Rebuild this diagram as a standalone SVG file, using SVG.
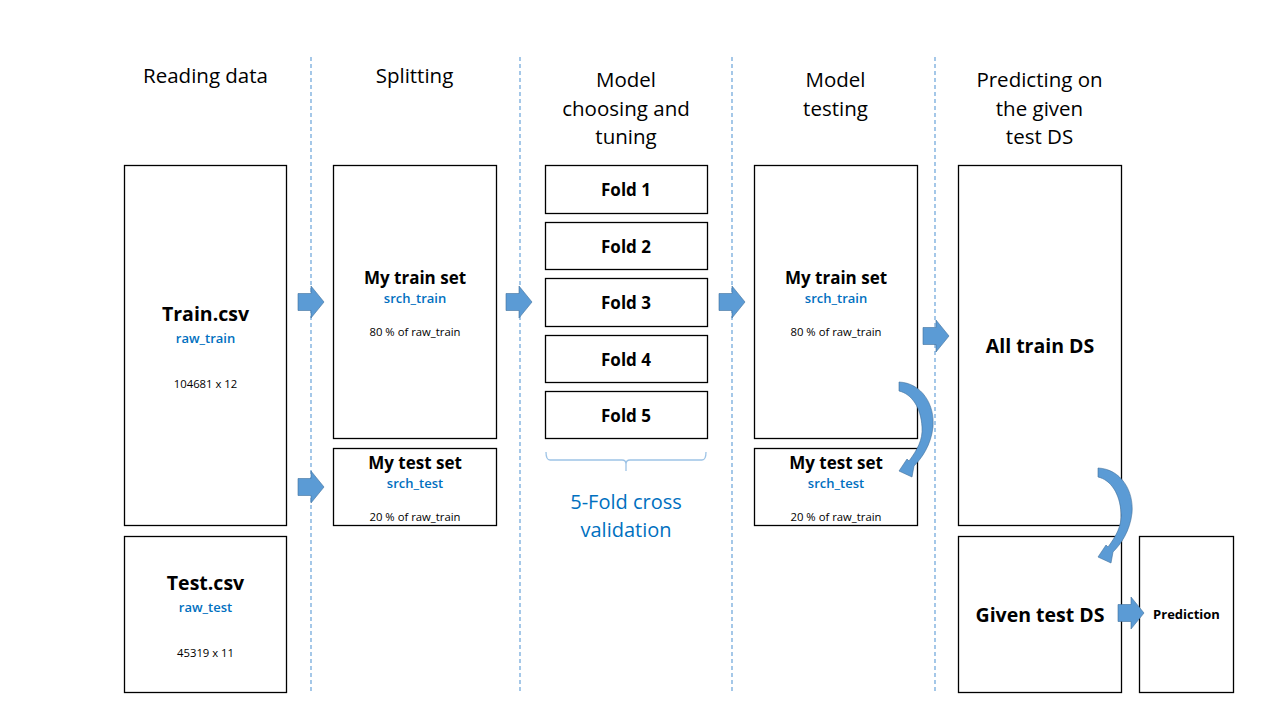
<svg xmlns="http://www.w3.org/2000/svg" xmlns:xlink="http://www.w3.org/1999/xlink" width="1280" height="720" viewBox="0 0 1280 720">
<style>
.box{fill:#fff;stroke:#000;stroke-width:1.3}
.hdr{font-family:"Open Sans","Liberation Sans",sans-serif;font-size:20.5px;fill:#000;text-anchor:middle}
.big{font-family:"Open Sans","Liberation Sans",sans-serif;font-size:19.5px;font-weight:bold;fill:#000;text-anchor:middle}
.mid{font-family:"Open Sans","Liberation Sans",sans-serif;font-size:17px;font-weight:bold;fill:#000;text-anchor:middle}
.var{font-family:"Open Sans","Liberation Sans",sans-serif;font-size:13px;font-weight:600;fill:#0070C0;text-anchor:middle}
.sm{font-family:"Open Sans","Liberation Sans",sans-serif;font-size:11.3px;fill:#000;text-anchor:middle}
.cv{font-family:"Open Sans","Liberation Sans",sans-serif;font-size:20px;fill:#0070C0;text-anchor:middle}
.sep{stroke:#5B9BD5;stroke-width:1.1;stroke-dasharray:4 3;fill:none}
.arr{fill:#5B9BD5;stroke:#41719C;stroke-width:0.6}
.carr{fill:#5B9BD5;stroke:#41719C;stroke-width:0.6}
</style>
<defs>
<path id="blk" d="M -13 -8.5 L 0 -8.5 L 0 -16 L 13 0 L 0 16 L 0 8.5 L -13 8.5 Z"/>
<path id="crv" d="M 899 382 C 922 383 935 405 933 427 C 931 445 922 458 914 466 L 912 477 L 899 471 L 907 459 L 909 461 C 917 450 923 440 922 427 C 921 408 912 394 899 391 Z"/>
</defs>
<rect width="1280" height="720" fill="#fff"/>

<g id="separators">
<line class="sep" x1="311" y1="57" x2="311" y2="692"/>
<line class="sep" x1="520" y1="57" x2="520" y2="692"/>
<line class="sep" x1="732" y1="57" x2="732" y2="692"/>
<line class="sep" x1="935" y1="57" x2="935" y2="692"/>
</g>

<g id="headers">
<text class="hdr" x="205.5" y="83">Reading data</text>
<text class="hdr" x="414.5" y="83">Splitting</text>
<text class="hdr" x="626" y="87">Model</text>
<text class="hdr" x="626" y="115.5">choosing and</text>
<text class="hdr" x="626" y="144">tuning</text>
<text class="hdr" x="835.5" y="87">Model</text>
<text class="hdr" x="835.5" y="115.5">testing</text>
<text class="hdr" x="1039.5" y="87">Predicting on</text>
<text class="hdr" x="1039.5" y="115.5">the given</text>
<text class="hdr" x="1039.5" y="144">test DS</text>
</g>

<g id="train-csv">
<rect class="box" x="124.5" y="165.5" width="162" height="360"/>
<text class="big" x="205.5" y="321">Train.csv</text>
<text class="var" x="205.5" y="343">raw_train</text>
<text class="sm" x="205.5" y="387.5">104681 x 12</text>
</g>

<g id="test-csv">
<rect class="box" x="124.5" y="536.5" width="162" height="156"/>
<text class="big" x="205.5" y="589.5">Test.csv</text>
<text class="var" x="205.5" y="611.5">raw_test</text>
<text class="sm" x="205.5" y="656.5">45319 x 11</text>
</g>

<g id="split-train">
<rect class="box" x="333.5" y="165.5" width="163" height="273"/>
<text class="mid" x="415" y="284">My train set</text>
<text class="var" x="415" y="302.5">srch_train</text>
<text class="sm" x="415" y="335.5">80 % of raw_train</text>
</g>

<g id="split-test">
<rect class="box" x="333.5" y="448.5" width="163" height="77"/>
<text class="mid" x="415" y="469">My test set</text>
<text class="var" x="415" y="487.5">srch_test</text>
<text class="sm" x="415" y="520.5">20 % of raw_train</text>
</g>

<g id="fold-1">
<rect class="box" x="545.5" y="165.5" width="162" height="48"/>
<text class="mid" x="626" y="196">Fold 1</text>
</g>
<g id="fold-2">
<rect class="box" x="545.5" y="222.5" width="162" height="47"/>
<text class="mid" x="626" y="252.5">Fold 2</text>
</g>
<g id="fold-3">
<rect class="box" x="545.5" y="278.5" width="162" height="48"/>
<text class="mid" x="626" y="309">Fold 3</text>
</g>
<g id="fold-4">
<rect class="box" x="545.5" y="335.5" width="162" height="47"/>
<text class="mid" x="626" y="365.5">Fold 4</text>
</g>
<g id="fold-5">
<rect class="box" x="545.5" y="391.5" width="162" height="47"/>
<text class="mid" x="626" y="421.5">Fold 5</text>
</g>

<g id="cv-brace">
<path d="M 546 452 Q 546 460 550 460 L 622 460 Q 626 460 626 464 L 626 471 L 626 464 Q 626 460 630 460 L 702 460 Q 706 460 706 452" fill="none" stroke="#9DC3E6" stroke-width="1.3"/>
<text class="cv" x="626" y="508.5">5-Fold cross</text>
<text class="cv" x="626" y="537">validation</text>
</g>

<g id="test-train">
<rect class="box" x="754.5" y="165.5" width="163" height="273"/>
<text class="mid" x="836" y="284">My train set</text>
<text class="var" x="836" y="302.5">srch_train</text>
<text class="sm" x="836" y="335.5">80 % of raw_train</text>
</g>

<g id="test-test">
<rect class="box" x="754.5" y="448.5" width="163" height="77"/>
<text class="mid" x="836" y="469">My test set</text>
<text class="var" x="836" y="487.5">srch_test</text>
<text class="sm" x="836" y="520.5">20 % of raw_train</text>
</g>

<g id="all-train">
<rect class="box" x="958.5" y="165.5" width="163" height="360"/>
<text class="big" x="1040" y="352.5">All train DS</text>
</g>

<g id="given-test">
<rect class="box" x="958.5" y="536.5" width="163" height="156"/>
<text class="big" x="1040" y="621.5">Given test DS</text>
</g>

<g id="prediction">
<rect class="box" x="1139.5" y="536.5" width="94" height="156"/>
<text class="mid" x="1186.5" y="618.5" style="font-size:13px">Prediction</text>
</g>

<g id="connectors">
<use xlink:href="#blk" class="arr" transform="translate(311,302)"/>
<use xlink:href="#blk" class="arr" transform="translate(311,487)"/>
<use xlink:href="#blk" class="arr" transform="translate(519,302)"/>
<use xlink:href="#blk" class="arr" transform="translate(732,302)"/>
<use xlink:href="#blk" class="arr" transform="translate(936,336)"/>
<use xlink:href="#blk" class="arr" transform="translate(1131,613)"/>
<use xlink:href="#crv" class="carr"/>
<use xlink:href="#crv" class="carr" transform="translate(199,86)"/>
</g>
</svg>
